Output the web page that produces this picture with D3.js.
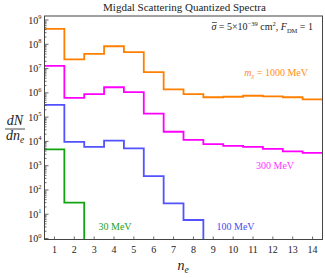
<!DOCTYPE html>
<html>
<head>
<meta charset="utf-8">
<script src="https://cdn.jsdelivr.net/npm/d3@7"></script>
<style>
  body { margin: 0; background: #fff; }
  text { font-family: "Liberation Serif", "DejaVu Serif", serif; fill: #222; }
</style>
</head>
<body>
<svg id="chart" width="325" height="278"></svg>
<script>
// electron number bins
const nE = d3.range(1, 15);

// dN/dn_e per bin (0 = below the plot range)
const mass1000 = [4.3e8, 2.4e7, 4.0e7, 8.3e7, 4.8e7, 7.2e6, 1.4e6, 8.9e5, 6.6e5, 6.9e5, 7.6e5, 7.2e5, 6.6e5, 5.4e5];
const mass300 = [1.3e7, 6.2e5, 8.9e5, 1.7e6, 1.07e6, 1.4e5, 2.5e4, 1.15e4, 7.8e3, 6.6e3, 6.0e3, 4.9e3, 3.9e3, 3.4e3];
const mass100 = [3.2e5, 9.5e3, 6.0e3, 1.07e4, 5.2e3, 370, 28, 5.8, 0, 0, 0, 0, 0, 0];
const mass30 = [4700, 30, 0, 0, 0, 0, 0, 0, 0, 0, 0, 0, 0, 0];

const yExponents = d3.range(0, 10);

(function() {
  let svg = d3.select('#chart');

  let plot = { left: 44.5, right: 322.5, top: 16, bottom: 239.5 };

  let x = d3.scaleLinear().domain([0.5, 14.5]).range([plot.left, plot.right]);
  let y = d3.scaleLog()
    .domain([Math.pow(10, -0.04), Math.pow(10, 9.165)])
    .range([plot.bottom, plot.top]);

  //
  // Series
  //

  let series = [
    { values: mass1000, color: '#ff8000' },
    { values: mass300, color: '#ff00ff' },
    { values: mass100, color: '#5252ff' },
    { values: mass30, color: '#10a510' }
  ];

  let line = d3.line()
    .x((p) => x(p.x))
    .y((p) => p.v > 0 ? y(p.v) : plot.bottom)
    .curve(d3.curveStepAfter);

  let toPoints = (values) => {
    let pts = [];
    for (let i = 0; i < values.length; i++) {
      if (values[i] <= 0) {
        // drop down to the floor at the bin edge
        pts.push({ x: nE[i] - 0.5, v: 0 });
        return pts;
      }
      pts.push({ x: nE[i] - 0.5, v: values[i] });
    }
    pts.push({ x: nE[nE.length - 1] + 0.5, v: values[values.length - 1] });
    return pts;
  };

  svg.append('defs').append('clipPath').attr('id', 'plot-clip')
    .append('rect')
      .attr('x', plot.left)
      .attr('y', plot.top)
      .attr('width', plot.right - plot.left)
      .attr('height', plot.bottom - plot.top);

  svg.append('g')
    .attr('clip-path', 'url(#plot-clip)')
    .selectAll('path')
    .data(series)
    .enter()
    .append('path')
      .attr('d', (s) => line(toPoints(s.values)))
      .attr('fill', 'none')
      .attr('stroke', (s) => s.color)
      .attr('stroke-width', 1.8);

  //
  // Frame and ticks
  //

  svg.append('rect')
    .attr('x', plot.left)
    .attr('y', plot.top)
    .attr('width', plot.right - plot.left)
    .attr('height', plot.bottom - plot.top)
    .attr('fill', 'none')
    .attr('stroke', '#444')
    .attr('stroke-width', 1);

  let ticks = svg.append('g').attr('stroke', '#444').attr('stroke-width', 0.8);

  // y ticks: majors at decades, minors at 2..9
  yExponents.forEach((k) => {
    let major = Math.pow(10, k);
    ticks.append('line')
      .attr('x1', plot.left).attr('x2', plot.left + 4)
      .attr('y1', y(major)).attr('y2', y(major));
    d3.range(2, 10).forEach((m) => {
      let v = m * major;
      if (v > y.domain()[1]) return;
      ticks.append('line')
        .attr('x1', plot.left).attr('x2', plot.left + 2)
        .attr('y1', y(v)).attr('y2', y(v));
    });
  });

  nE.forEach((n) => {
    ticks.append('line')
      .attr('x1', x(n)).attr('x2', x(n))
      .attr('y1', plot.bottom).attr('y2', plot.bottom - 3);
  });

  // y tick labels: 10^k
  let yLabels = svg.append('g').selectAll('text')
    .data(yExponents)
    .enter()
    .append('text')
      .attr('x', plot.left - 3)
      .attr('y', (k) => y(Math.pow(10, k)) + 3.5)
      .attr('text-anchor', 'end')
      .attr('font-size', 10);
  yLabels.append('tspan').text('10');
  yLabels.append('tspan')
    .attr('font-size', 6.5)
    .attr('dy', -4.5)
    .text((k) => k);

  // x tick labels
  svg.append('g').selectAll('text')
    .data(nE)
    .enter()
    .append('text')
      .attr('x', (n) => x(n))
      .attr('y', plot.bottom + 13)
      .attr('text-anchor', 'middle')
      .attr('font-size', 10)
      .text((n) => n);

  //
  // Titles and annotations
  //

  svg.append('text')
    .attr('x', 184.5)
    .attr('y', 11)
    .attr('text-anchor', 'middle')
    .attr('font-size', 11)
    .text('Migdal Scattering Quantized Spectra');

  let note = svg.append('text')
    .attr('x', 313)
    .attr('y', 30)
    .attr('text-anchor', 'end')
    .attr('font-size', 10);
  note.append('tspan').attr('font-style', 'italic').text('σ');
  note.append('tspan').text(' = 5×10');
  note.append('tspan').attr('font-size', 6.5).attr('dy', -4.5).text('−39');
  note.append('tspan').attr('dy', 4.5).text(' cm');
  note.append('tspan').attr('font-size', 6.5).attr('dy', -4.5).text('2');
  note.append('tspan').attr('dy', 4.5).text(',  ');
  note.append('tspan').attr('font-style', 'italic').text('F');
  note.append('tspan').attr('font-size', 6.5).attr('dy', 2.5).text('DM');
  note.append('tspan').attr('dy', -2.5).text(' = 1');

  // overline on sigma
  let sig = note.node().getExtentOfChar(0);
  svg.append('line')
    .attr('x1', sig.x + 0.5).attr('x2', sig.x + sig.width + 0.5)
    .attr('y1', 22.5).attr('y2', 22.5)
    .attr('stroke', '#222').attr('stroke-width', 0.7);

  let mLabel = svg.append('text')
    .attr('x', 308)
    .attr('y', 75.5)
    .attr('text-anchor', 'end')
    .attr('font-size', 10)
    .style('fill', '#ff8c1a');
  mLabel.append('tspan').attr('font-style', 'italic').text('m');
  mLabel.append('tspan').attr('font-style', 'italic').attr('font-size', 6.5).attr('dy', 2.5).text('χ');
  mLabel.append('tspan').attr('dy', -2.5).text(' = 1000 MeV');

  let massLabels = [
    { text: '300 MeV', x: 256, y: 168.5, color: '#ff33ff' },
    { text: '100 MeV', x: 216.5, y: 230, color: '#4a4aee' },
    { text: '30 MeV', x: 98.5, y: 230, color: '#22a022' }
  ];
  svg.append('g').selectAll('text')
    .data(massLabels)
    .enter()
    .append('text')
      .attr('x', (d) => d.x)
      .attr('y', (d) => d.y)
      .attr('font-size', 10)
      .style('fill', (d) => d.color)
      .text((d) => d.text);

  // axis labels
  let yTitle = svg.append('g').attr('transform', 'translate(15, 129)');
  yTitle.append('text')
    .attr('y', -4)
    .attr('text-anchor', 'middle')
    .attr('font-size', 14)
    .attr('font-style', 'italic')
    .text('dN');
  yTitle.append('line')
    .attr('x1', -10).attr('x2', 10)
    .attr('stroke', '#222').attr('stroke-width', 0.8);
  let dn = yTitle.append('text')
    .attr('y', 11)
    .attr('text-anchor', 'middle')
    .attr('font-size', 14)
    .attr('font-style', 'italic');
  dn.append('tspan').text('dn');
  dn.append('tspan').attr('font-size', 9.5).attr('dy', 2.5).text('e');

  let xTitle = svg.append('text')
    .attr('x', 183)
    .attr('y', 270)
    .attr('text-anchor', 'middle')
    .attr('font-size', 14)
    .attr('font-style', 'italic');
  xTitle.append('tspan').text('n');
  xTitle.append('tspan').attr('font-size', 9.5).attr('dy', 2.5).text('e');
})();
</script>
</body>
</html>
